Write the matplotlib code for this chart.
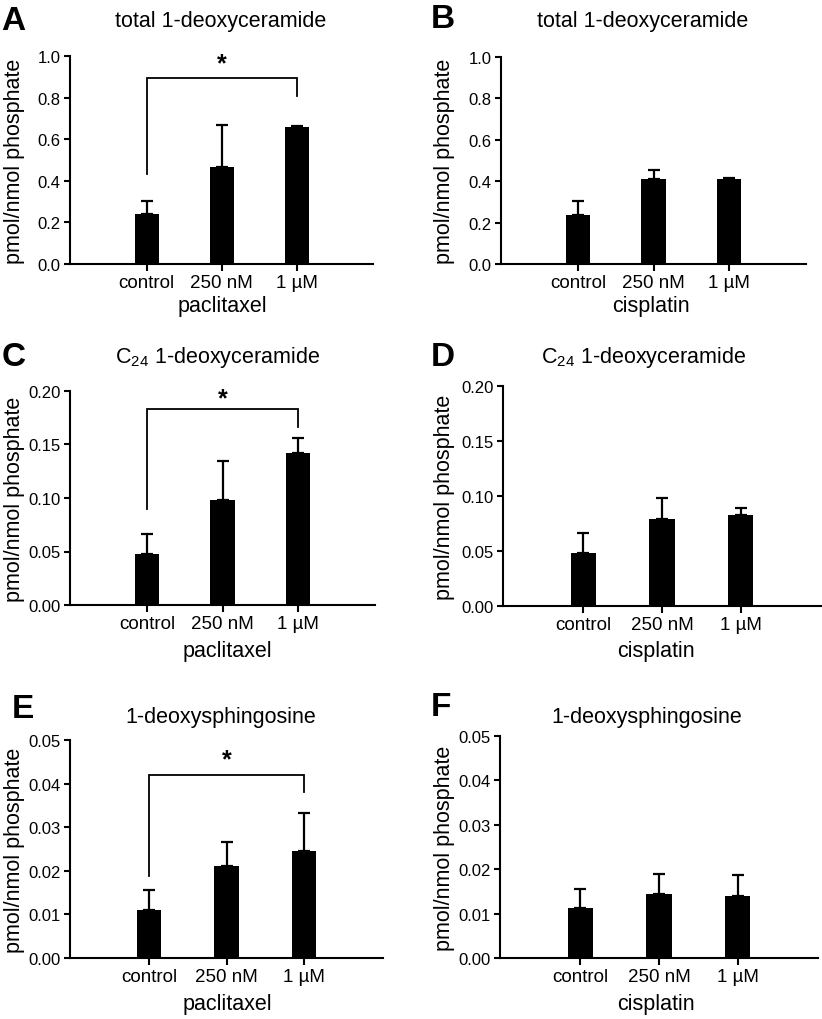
import matplotlib
matplotlib.use("Agg")
import matplotlib.pyplot as plt
import numpy as np
from matplotlib.ticker import FormatStrFormatter

plt.rcParams['font.family'] = ['Liberation Sans', 'DejaVu Sans']
plt.rcParams['mathtext.default'] = 'regular'

W, H = 822, 1020

categories = ["control", "250 nM", "1 µM"]

# Panel data (means and upper SEM)
A_mean = [0.239, 0.467, 0.661]
A_err = [0.066, 0.200, 0.002]
B_mean = [0.239, 0.411, 0.411]
B_err = [0.067, 0.045, 0.005]
C_mean = [0.0476, 0.098, 0.1425]
C_err = [0.0183, 0.037, 0.0135]
D_mean = [0.0485, 0.0788, 0.0827]
D_err = [0.0175, 0.0197, 0.0061]
E_mean = [0.0111, 0.0210, 0.0245]
E_err = [0.0044, 0.0055, 0.0088]
F_mean = [0.0112, 0.0145, 0.0140]
F_err = [0.0043, 0.0045, 0.0047]

titles = ["total 1-deoxyceramide", "total 1-deoxyceramide",
          "C$_{24}$ 1-deoxyceramide", "C$_{24}$ 1-deoxyceramide",
          "1-deoxysphingosine", "1-deoxysphingosine"]
xlabels = ["paclitaxel", "cisplatin"] * 3
letters = ["A", "B", "C", "D", "E", "F"]
ylims = [1.0, 1.0, 0.20, 0.20, 0.05, 0.05]
ysteps = [0.2, 0.2, 0.05, 0.05, 0.01, 0.01]
yfmts = ["%.1f", "%.1f", "%.2f", "%.2f", "%.2f", "%.2f"]

# significance brackets: (y_bar, y_left_end, y_right_end, y_star)
A_sig = (0.896, 0.432, 0.808, 0.965)
C_sig = (0.183, 0.0896, 0.166, 0.193)
E_sig = (0.04205, 0.01888, 0.03815, 0.0455)

means = [A_mean, B_mean, C_mean, D_mean, E_mean, F_mean]
errs = [A_err, B_err, C_err, D_err, E_err, F_err]
sigs = [A_sig, None, C_sig, None, E_sig, None]

# axes boxes in pixels: left, right, top, bottom
boxes = [(70, 373, 57, 265), (501, 806, 58, 265),
         (70, 375, 392, 606), (503, 821, 387, 607),
         (70, 383, 741, 959), (500, 818, 737, 959)]
title_pos = [(221, 22), (643, 22), (217, 358), (643, 358), (221, 718), (647, 718)]
letter_pos = [(1, 22), (431, 20), (2, 358), (431, 358), (12, 710), (431, 708)]
xlabel_pos = [(222, 307), (651, 307), (227, 652), (656, 652), (227, 1005), (656, 1005)]
ylabel_x = [15, 444, 15, 444, 15, 444]

fig = plt.figure(figsize=(W / 100, H / 100), dpi=100)

for i in range(6):
    l, r, t, b = boxes[i]
    ax = fig.add_axes([l / W, 1 - b / H, (r - l) / W, (b - t) / H])
    x = np.arange(len(categories))
    ax.bar(x, means[i], width=0.32, color="black", zorder=2)
    ax.errorbar(x, means[i], yerr=[np.zeros(3), errs[i]], fmt="none",
                ecolor="black", elinewidth=1.6, capsize=4, capthick=1.6, zorder=1)
    ax.set_xlim(-1.02, 3.02)
    ax.set_ylim(0, ylims[i])
    ax.set_yticks(np.arange(0, ylims[i] + ysteps[i] / 2, ysteps[i]))
    ax.yaxis.set_major_formatter(FormatStrFormatter(yfmts[i]))
    ax.set_xticks(x)
    ax.set_xticklabels(categories)
    for s in ["top", "right"]:
        ax.spines[s].set_visible(False)
    for s in ["left", "bottom"]:
        ax.spines[s].set_linewidth(1.5)
    ax.tick_params(axis="y", labelsize=12, width=1.5, length=4, pad=3)
    ax.tick_params(axis="x", labelsize=13.5, width=1.5, length=5, pad=2)

    # axis labels
    ax.set_ylabel("pmol/nmol phosphate", fontsize=15.5)
    ax.yaxis.label.set_va("center")
    ax.yaxis.set_label_coords((ylabel_x[i] - l) / (r - l), 0.5)
    ax.set_xlabel(xlabels[i], fontsize=15.5)
    ax.xaxis.label.set_va("center")
    xl, yl = xlabel_pos[i]
    ax.xaxis.set_label_coords((xl - l) / (r - l), (b - yl) / (b - t))

    # titles and panel letters
    tx, ty = title_pos[i]
    fig.text(tx / W, 1 - ty / H, titles[i], fontsize=15.5, ha="center", va="center")
    lx, ly = letter_pos[i]
    fig.text(lx / W, 1 - ly / H, letters[i], fontsize=24, fontweight="bold",
             ha="left", va="center")

    if sigs[i] is not None:
        yb, yleft, yright, ystar = sigs[i]
        ax.plot([0, 0, 2, 2], [yleft, yb, yb, yright], color="black", lw=1.3,
                solid_joinstyle="miter", clip_on=False)
        ax.text(1, ystar, "*", fontsize=18, ha="center", va="center", fontweight="bold")

fig.savefig("out.png", dpi=100)
